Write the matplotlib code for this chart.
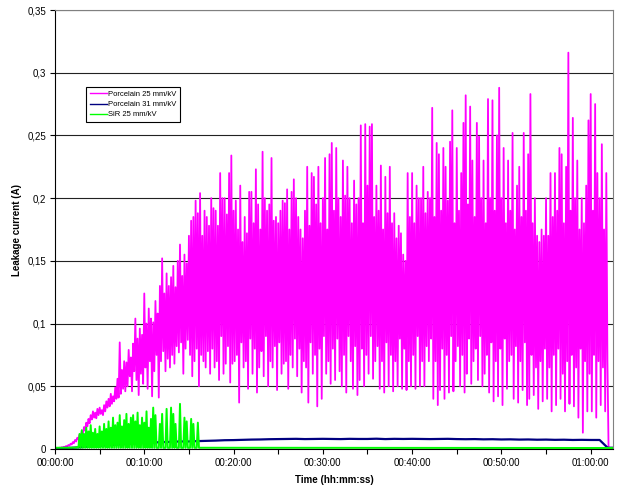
import numpy as np
import matplotlib.pyplot as plt
from matplotlib.lines import Line2D

plt.rcParams['font.family'] = ['Liberation Sans', 'DejaVu Sans']

step = 0.25  # minutes between readings
t_end = 62.5

# Porcelain 25 mm/kV: peak readings (one every 0.25 min, one row per minute)
pc25_hi = [
    0.0006, 0.0008, 0.0011, 0.0014,
    0.0018, 0.0024, 0.0032, 0.0042,
    0.0055, 0.0072, 0.009, 0.0115,
    0.014, 0.0175, 0.021, 0.024,
    0.027, 0.03, 0.029, 0.032,
    0.033, 0.031, 0.035, 0.038,
    0.04, 0.044, 0.042, 0.049,
    0.056, 0.085, 0.063, 0.07,
    0.069, 0.079, 0.073, 0.084,
    0.104, 0.088, 0.096, 0.091,
    0.124, 0.1, 0.112, 0.104,
    0.101, 0.118, 0.108, 0.13,
    0.152, 0.124, 0.14, 0.13,
    0.137, 0.146, 0.129, 0.15,
    0.163, 0.138, 0.155, 0.148,
    0.17, 0.182, 0.185, 0.198,
    0.188, 0.204, 0.17, 0.19,
    0.185, 0.178, 0.2, 0.192,
    0.19, 0.178, 0.22, 0.2,
    0.2, 0.187, 0.22, 0.234,
    0.19, 0.198, 0.175, 0.21,
    0.165, 0.185, 0.172, 0.205,
    0.205, 0.18, 0.223, 0.195,
    0.175, 0.237, 0.2, 0.19,
    0.195, 0.232, 0.182, 0.185,
    0.18, 0.19, 0.198, 0.196,
    0.207, 0.175, 0.205, 0.215,
    0.2, 0.185, 0.175, 0.168,
    0.19, 0.225, 0.178, 0.22,
    0.217, 0.195, 0.225, 0.18,
    0.2, 0.232, 0.175, 0.235,
    0.244, 0.19, 0.24, 0.2,
    0.185, 0.23, 0.202, 0.225,
    0.2, 0.18, 0.214, 0.195,
    0.2, 0.258, 0.18, 0.259,
    0.21, 0.257, 0.259, 0.185,
    0.21, 0.19, 0.226, 0.175,
    0.217, 0.188, 0.225, 0.18,
    0.188, 0.168, 0.178, 0.172,
    0.155, 0.15, 0.22, 0.185,
    0.22, 0.18, 0.21, 0.2,
    0.2, 0.225, 0.188, 0.205,
    0.2, 0.272, 0.185, 0.244,
    0.235, 0.19, 0.24, 0.225,
    0.198, 0.245, 0.27, 0.18,
    0.24, 0.19, 0.22, 0.26,
    0.282, 0.195, 0.273, 0.23,
    0.185, 0.26, 0.249, 0.2,
    0.23, 0.18, 0.279, 0.2,
    0.278, 0.19, 0.25, 0.288,
    0.2, 0.24, 0.18, 0.23,
    0.19, 0.252, 0.175, 0.21,
    0.225, 0.185, 0.252, 0.19,
    0.235, 0.283, 0.18, 0.2,
    0.17, 0.165, 0.175, 0.17,
    0.2, 0.17, 0.22, 0.185,
    0.22, 0.19, 0.24, 0.235,
    0.18, 0.225, 0.316, 0.19,
    0.264, 0.2, 0.23, 0.175,
    0.2, 0.18, 0.21, 0.262,
    0.283, 0.19, 0.275, 0.22,
    0.2, 0.243, 0.175, 0.22,
    0.002,
]

# Porcelain 25 mm/kV: trough readings between the peaks
pc25_lo = [
    0.0004, 0.0006, 0.0009, 0.0012,
    0.0015, 0.002, 0.0027, 0.0036,
    0.0047, 0.006, 0.0078, 0.0098,
    0.012, 0.0148, 0.018, 0.0205,
    0.0235, 0.025, 0.0245, 0.027,
    0.028, 0.027, 0.03, 0.033,
    0.034, 0.036, 0.038, 0.04,
    0.041, 0.044, 0.048, 0.046,
    0.05, 0.058, 0.046, 0.062,
    0.055, 0.043, 0.06, 0.052,
    0.065, 0.048, 0.07, 0.042,
    0.062, 0.075, 0.041, 0.07,
    0.078, 0.062, 0.072, 0.065,
    0.075, 0.068, 0.082, 0.077,
    0.085, 0.06, 0.08, 0.087,
    0.075, 0.058, 0.07, 0.08,
    0.05, 0.075, 0.07, 0.065,
    0.078, 0.06, 0.08, 0.065,
    0.07, 0.055, 0.09, 0.06,
    0.068, 0.082, 0.053, 0.068,
    0.07, 0.075, 0.037, 0.085,
    0.065, 0.07, 0.048, 0.088,
    0.06, 0.08, 0.045, 0.065,
    0.078, 0.058, 0.09, 0.05,
    0.07, 0.065, 0.082, 0.047,
    0.085, 0.06, 0.068, 0.07,
    0.048, 0.075, 0.065, 0.088,
    0.058, 0.08, 0.045, 0.07,
    0.065, 0.037, 0.085, 0.06,
    0.075, 0.034, 0.08, 0.04,
    0.09, 0.06, 0.07, 0.052,
    0.08, 0.055, 0.088, 0.062,
    0.05, 0.075, 0.045, 0.09,
    0.07, 0.048, 0.082, 0.043,
    0.055, 0.08, 0.05, 0.075,
    0.06, 0.09, 0.056, 0.07,
    0.082, 0.048, 0.07, 0.045,
    0.085, 0.05, 0.075, 0.046,
    0.07, 0.05, 0.088, 0.048,
    0.08, 0.047, 0.07, 0.05,
    0.075, 0.048, 0.09, 0.05,
    0.07, 0.05, 0.082, 0.07,
    0.088, 0.04, 0.07, 0.035,
    0.047, 0.08, 0.04, 0.075,
    0.045, 0.09, 0.046, 0.07,
    0.082, 0.05, 0.075, 0.045,
    0.06, 0.088, 0.052, 0.07,
    0.08, 0.055, 0.09, 0.05,
    0.06, 0.075, 0.045, 0.085,
    0.038, 0.07, 0.042, 0.08,
    0.035, 0.088, 0.048, 0.07,
    0.075, 0.04, 0.082, 0.037,
    0.07, 0.047, 0.085, 0.035,
    0.04, 0.075, 0.043, 0.065,
    0.032, 0.07, 0.038, 0.08,
    0.04, 0.065, 0.03, 0.075,
    0.035, 0.08, 0.04, 0.06,
    0.03, 0.07, 0.036, 0.075,
    0.034, 0.065, 0.025, 0.08,
    0.013, 0.07, 0.03, 0.06,
    0.03, 0.075, 0.025, 0.07,
    0.035, 0.065, 0.03, 0.07,
]

# Porcelain 31 mm/kV: one reading per minute, then the drop at the end
pc31 = [
    0.0005, 0.0008, 0.001, 0.0015, 0.002, 0.0025, 0.003, 0.0035, 0.004, 0.0045,
    0.005, 0.0052, 0.0055, 0.0057, 0.006, 0.006, 0.0063, 0.0065, 0.0067, 0.007,
    0.0071, 0.0073, 0.0075, 0.0076, 0.0078, 0.0079, 0.008, 0.0081, 0.0079, 0.008,
    0.0081, 0.008, 0.0079, 0.0081, 0.008, 0.008, 0.0082, 0.0079, 0.0081, 0.008,
    0.0081, 0.008, 0.0079, 0.008, 0.0081, 0.0079, 0.0078, 0.0079, 0.0077, 0.0078,
    0.0076, 0.0077, 0.0075, 0.0076, 0.0074, 0.0075, 0.0073, 0.0074, 0.0072, 0.0073,
    0.0072, 0.0072, 0.001,
]

# SiR 25 mm/kV: spike heights every 0.25 min up to 16.25 min
sir_hi = [
    0.001, 0.001, 0.001, 0.001,
    0.001, 0.001, 0.001, 0.001,
    0.0012, 0.0012, 0.0015, 0.012,
    0.015, 0.012, 0.017, 0.014,
    0.019, 0.013, 0.016, 0.012,
    0.018, 0.014, 0.02, 0.016,
    0.022, 0.017, 0.025, 0.019,
    0.021, 0.027, 0.018, 0.023,
    0.028, 0.02, 0.025, 0.027,
    0.022, 0.029, 0.019, 0.025,
    0.021, 0.03, 0.017, 0.024,
    0.033, 0.027, 0.001, 0.02,
    0.028, 0.001, 0.032, 0.001,
    0.033, 0.028, 0.02, 0.001,
    0.036, 0.001, 0.025, 0.022,
    0.001, 0.024, 0.02, 0.001,
    0.021, 0.001,
]
sir_base = 0.001
sir_tail = 0.0008

y_ticks = [0, 0.05, 0.1, 0.15, 0.2, 0.25, 0.3, 0.35]
y_labels = ['0', '0,05', '0,1', '0,15', '0,2', '0,25', '0,3', '0,35']
x_ticks = list(range(0, 65, 5))
x_labels = ['00:00:00', '', '00:10:00', '', '00:20:00', '', '00:30:00', '',
            '00:40:00', '', '00:50:00', '', '01:00:00']

names = ['Porcelain 25 mm/kV', 'Porcelain 31 mm/kV', 'SiR 25 mm/kV']
colors = ['#FF00FF', '#000080', '#00FF00']

# interleave peaks and troughs into one trace
n = len(pc25_lo)
t_pk = np.arange(len(pc25_hi)) * step
x_pc25 = np.append(np.column_stack([t_pk[:n], t_pk[:n] + step / 2]).ravel(), t_pk[n:])
y_pc25 = np.append(np.column_stack([pc25_hi[:n], pc25_lo]).ravel(), pc25_hi[n:])

t_31 = np.arange(len(pc31), dtype=float)
t_31[-1] = 61.9
x_pc31 = np.append(t_31, t_end)
y_pc31 = np.append(pc31, pc31[-1])

t_sir = np.arange(len(sir_hi)) * step
x_sir = np.column_stack([t_sir, t_sir + step / 2]).ravel()
y_sir = np.column_stack([sir_hi, np.full(len(sir_hi), sir_base)]).ravel()
x_sir = np.append(x_sir, t_end)
y_sir = np.append(y_sir, sir_tail)

fig = plt.figure(figsize=(6.18, 4.87), dpi=100)
ax = fig.add_axes([55 / 618, 1 - 449 / 487, 558 / 618, 439 / 487])

ax.plot(x_pc25, y_pc25, color=colors[0], linewidth=1.3)
ax.plot(x_pc31, y_pc31, color=colors[1], linewidth=1.6)
ax.plot(x_sir, y_sir, color=colors[2], linewidth=1.4)

ax.set_xlim(0, t_end)
ax.set_ylim(0, 0.35)
ax.set_yticks(y_ticks)
ax.set_yticklabels(y_labels)
ax.set_xticks(x_ticks)
ax.set_xticklabels(x_labels)
ax.tick_params(direction='out', length=3.5, width=0.8, labelsize=7, pad=3)
ax.yaxis.grid(True, color='#222222', linewidth=0.8)
ax.set_axisbelow(True)

for side in ['top', 'right']:
    ax.spines[side].set_color('#808080')
for side in ['left', 'bottom']:
    ax.spines[side].set_color('black')

ax.set_ylabel('Leakage current (A)', fontsize=7, fontweight='bold', labelpad=4)
ax.set_xlabel('Time (hh:mm:ss)', fontsize=7, fontweight='bold', labelpad=5)

handles = [Line2D([], [], color=c, linewidth=1.0) for c in colors]
leg = ax.legend(handles, names, loc='upper left', bbox_to_anchor=(0.0556, 0.8246),
                borderaxespad=0, fontsize=5.5, frameon=True, fancybox=False,
                edgecolor='black', framealpha=1, handlelength=2.2,
                handletextpad=0.2, labelspacing=0.35, borderpad=0.5)
leg.get_frame().set_linewidth(0.8)

fig.savefig('out.png', dpi=100)
